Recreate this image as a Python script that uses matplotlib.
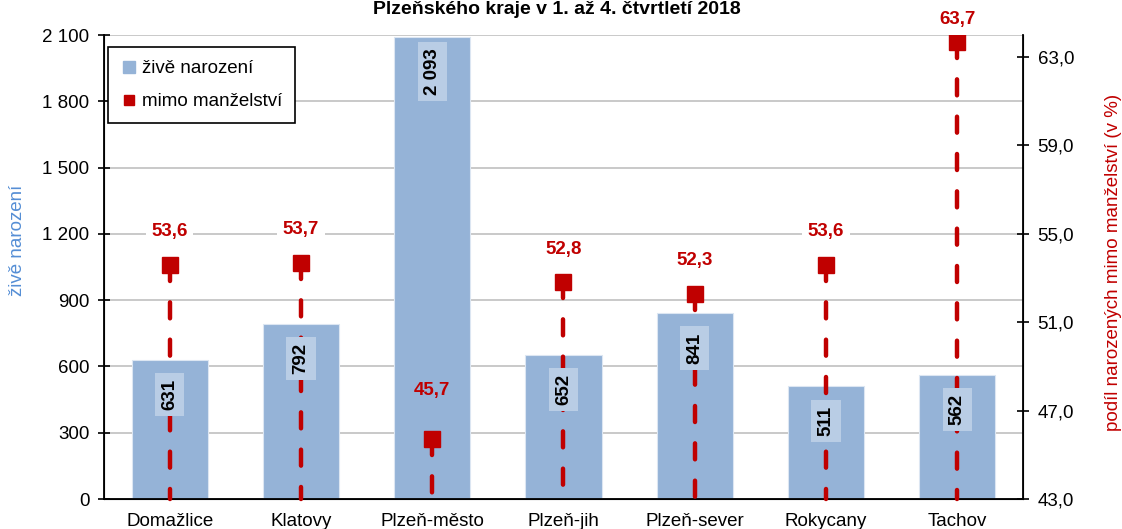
import matplotlib.pyplot as plt
from matplotlib.lines import Line2D

plt.rcParams['font.family'] = ['Liberation Sans', 'DejaVu Sans']

okresy = ['Domažlice', 'Klatovy', 'Plzeň-město', 'Plzeň-jih', 'Plzeň-sever', 'Rokycany', 'Tachov']
zive = [631, 792, 2093, 652, 841, 511, 562]
mimo = [53.6, 53.7, 45.7, 52.8, 52.3, 53.6, 63.7]

bar_col = '#95b3d7'
red = '#c00000'
fs = 13.5

fig = plt.figure(figsize=(11.22, 5.29), dpi=100)
ax = fig.add_axes([104/1122, 1-499/529, 919/1122, 464/529])
ax2 = ax.twinx()

x = range(len(okresy))
ax.bar(x, zive, width=0.58, color=bar_col, edgecolor='#dce6f2', linewidth=0.8, zorder=2)
ax.set_xlim(-0.5, len(okresy)-0.5)
ax.set_ylim(0, 2100)
ax.set_yticks(range(0, 2101, 300))
ax.set_yticklabels([f'{v:,}'.replace(',', ' ') for v in range(0, 2101, 300)])
ax.yaxis.grid(True, color='#c0c0c0', lw=1.2, zorder=0)
ax.set_axisbelow(True)
ax.set_xticks(list(x))
ax.set_xticklabels(okresy)
ax.tick_params(axis='x', length=0, pad=10, labelsize=fs)
ax.tick_params(axis='y', direction='inout', length=9, width=1.2, labelsize=fs, pad=6)
ax.spines['top'].set_visible(False)
ax2.spines['top'].set_visible(False)
for s in ['left', 'bottom']:
    ax.spines[s].set_linewidth(1.3)
ax2.spines['right'].set_linewidth(1.3)

ax2.set_ylim(43, 64)
ax2.set_yticks([43, 47, 51, 55, 59, 63])
ax2.set_yticklabels([f'{v:.1f}'.replace('.', ',') for v in [43, 47, 51, 55, 59, 63]])
ax2.tick_params(axis='y', direction='inout', length=9, width=1.2, labelsize=fs, pad=6)

# svisle carkovane cary od bodu dolu
for i, v in enumerate(mimo):
    ax2.plot([i, i], [v, 43], color=red, lw=3.2, linestyle=(0, (3.6, 4.8)),
             dash_capstyle='round', zorder=3, clip_on=False)
ax2.plot(list(x), mimo, ls='', marker='s', markersize=11.5, color=red, zorder=4)

offs = [24, 24, 35, 24, 24, 24, 16]
for i, v in enumerate(mimo):
    box = None if i == 2 else dict(facecolor='white', edgecolor='none', pad=4)
    ax2.annotate(f'{v:.1f}'.replace('.', ','), (i, v), xytext=(0, offs[i]), textcoords='offset points',
                 ha='center', va='center', color=red, fontsize=fs, fontweight='bold',
                 bbox=box, zorder=5)

for i, v in enumerate(zive):
    ax2.annotate(f'{v:,}'.replace(',', ' '), (i, v), xycoords=ax.transData, xytext=(0, -25),
                 textcoords='offset points', ha='center', va='center', rotation=90,
                 fontsize=fs, fontweight='bold', color='black',
                 bbox=dict(facecolor='#b9cde5', edgecolor='none', pad=4.5), zorder=6)

handles = [Line2D([], [], ls='', marker='s', markersize=8, color=bar_col),
           Line2D([], [], ls='', marker='s', markersize=7, color=red)]
leg = ax2.legend(handles, ['živě narození', 'mimo manželství'], loc='upper left',
                 bbox_to_anchor=(108/1122, 1-47/529), bbox_transform=fig.transFigure,
                 fontsize=fs, fancybox=False, edgecolor='black', framealpha=1,
                 handlelength=0.8, handletextpad=0.3, labelspacing=0.85,
                 borderpad=0.7, borderaxespad=0)
leg.get_frame().set_linewidth(1.2)
leg.set_zorder(10)

fig.text(18/1122, 1-240/529, 'živě narození', rotation=90, ha='center', va='center',
         color='#558ed5', fontsize=fs)
fig.text(1113/1122, 1-262/529, 'podíl narozených mimo manželství (v %)', rotation=90,
         ha='center', va='center', color=red, fontsize=fs)
fig.text(557/1122, 1-1/529, 'Plzeňského kraje v 1. až 4. čtvrtletí 2018', ha='center',
         va='top', fontsize=14, fontweight='bold')

fig.savefig('out.png', dpi=100)
